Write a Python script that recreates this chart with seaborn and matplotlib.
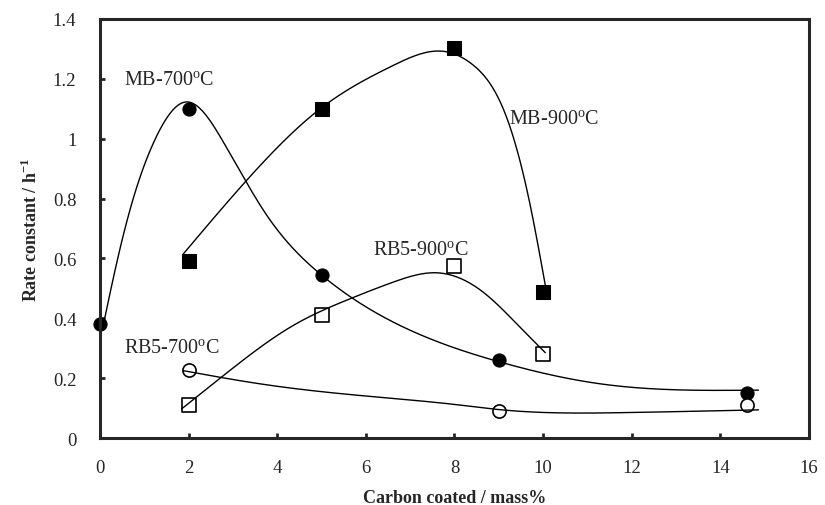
import numpy as np
import seaborn as sns
import matplotlib
matplotlib.use("Agg")
import matplotlib.pyplot as plt

# measured points
mb700_x = [0, 2, 5, 9, 14.6]
mb700_y = [0.38, 1.10, 0.546, 0.261, 0.149]
mb900_x = [2, 5, 8, 10]
mb900_y = [0.593, 1.10, 1.303, 0.488]
rb900_x = [2, 5, 8, 10]
rb900_y = [0.111, 0.411, 0.574, 0.280]
rb700_x = [2, 9, 14.6]
rb700_y = [0.228, 0.091, 0.110]

# trend curves
mb700_cx = [0.05, 0.4, 0.75, 1.25, 1.96, 2.78, 3.76, 4.97, 6.77, 9.0, 11.29, 14.86]
mb700_cy = [0.36, 0.6, 0.8, 1.0, 1.123, 0.99, 0.745, 0.548, 0.376, 0.255, 0.181, 0.160]
mb900_cx = [1.88, 3.31, 4.97, 6.62, 7.75, 8.43, 9.10, 9.71, 10.05]
mb900_cy = [0.615, 0.861, 1.10, 1.245, 1.292, 1.245, 1.100, 0.777, 0.51]
rb900_cx = [1.84, 2.78, 4.36, 5.64, 6.62, 7.6, 8.65, 9.5, 10.05]
rb900_cy = [0.097, 0.208, 0.376, 0.465, 0.521, 0.552, 0.487, 0.367, 0.285]
rb700_cx = [1.88, 3.61, 5.87, 8.13, 9.0, 11.9, 14.86]
rb700_cy = [0.225, 0.181, 0.142, 0.110, 0.095, 0.085, 0.094]

labels = ["MB-700$^{\\rm o}$C", "MB-900$^{\\rm o}$C", "RB5-900$^{\\rm o}$C", "RB5-700$^{\\rm o}$C"]
label_pos = [(0.54, 1.18), (9.22, 1.05), (6.17, 0.61), (0.54, 0.284)]


def smooth(x, y, n=400):
    # natural cubic spline through the read points, numpy only
    x = np.asarray(x, float)
    y = np.asarray(y, float)
    h = np.diff(x)
    k = len(x)
    A = np.zeros((k, k))
    r = np.zeros(k)
    A[0, 0] = A[-1, -1] = 1
    for i in range(1, k - 1):
        A[i, i - 1] = h[i - 1]
        A[i, i] = 2 * (h[i - 1] + h[i])
        A[i, i + 1] = h[i]
        r[i] = 3 * ((y[i + 1] - y[i]) / h[i] - (y[i] - y[i - 1]) / h[i - 1])
    c = np.linalg.solve(A, r)
    b = (y[1:] - y[:-1]) / h - h * (2 * c[:-1] + c[1:]) / 3
    d = (c[1:] - c[:-1]) / (3 * h)
    xs = np.linspace(x[0], x[-1], n)
    i = np.clip(np.searchsorted(x, xs) - 1, 0, k - 2)
    t = xs - x[i]
    return xs, y[i] + b[i] * t + c[i] * t ** 2 + d[i] * t ** 3


sns.set_style("ticks")
plt.rcParams["font.family"] = ["Liberation Serif", "DejaVu Serif"]
plt.rcParams["mathtext.fontset"] = "custom"
plt.rcParams["mathtext.rm"] = "Liberation Serif"
plt.rcParams["mathtext.bf"] = "Liberation Serif:bold"

fig = plt.figure(figsize=(8.25, 5.06), dpi=100)
ax = fig.add_axes([0.1212, 0.1324, 0.8594, 0.8281])

for cx, cy in [(mb700_cx, mb700_cy), (mb900_cx, mb900_cy), (rb900_cx, rb900_cy), (rb700_cx, rb700_cy)]:
    xs, ys = smooth(cx, cy)
    sns.lineplot(x=xs, y=ys, ax=ax, color="black", lw=1.0, sort=False, estimator=None, zorder=3)

s = 90
sns.scatterplot(x=mb700_x, y=mb700_y, ax=ax, marker="o", s=s, color="black", edgecolor="black", zorder=2, clip_on=False)
sns.scatterplot(x=mb900_x, y=mb900_y, ax=ax, marker="s", s=s, color="black", edgecolor="black", zorder=2, clip_on=False)
sns.scatterplot(x=rb900_x, y=rb900_y, ax=ax, marker="s", s=s, color="white", edgecolor="black", linewidth=1.2, zorder=2, clip_on=False)
sns.scatterplot(x=rb700_x, y=rb700_y, ax=ax, marker="o", s=s, color="white", edgecolor="black", linewidth=1.2, zorder=2, clip_on=False)

for txt, (tx, ty) in zip(labels, label_pos):
    ax.text(tx, ty, txt, fontsize=14.5, ha="left", va="baseline")

ax.set_xlim(0, 16)
ax.set_ylim(0, 1.4)
ax.set_xticks(np.arange(0, 17, 2))
ax.set_yticks(np.arange(0, 1.41, 0.2))
ax.set_yticklabels(["0", "0.2", "0.4", "0.6", "0.8", "1", "1.2", "1.4"])
ax.tick_params(direction="in", length=3.6, width=2, labelsize=13.5, pad=17)
ax.tick_params(axis="x", pad=15)
for sp in ax.spines.values():
    sp.set_visible(True)
    sp.set_linewidth(2.2)

ax.set_xlabel("Carbon coated / mass%", fontsize=13, fontweight="bold")
ax.set_ylabel("Rate constant / h$^{\\mathbf{-1}}$", fontsize=13, fontweight="bold")
ax.xaxis.set_label_coords(0.5, -0.121)
ax.yaxis.set_label_coords(-0.083, 0.5)

fig.savefig("out.png", dpi=100)
